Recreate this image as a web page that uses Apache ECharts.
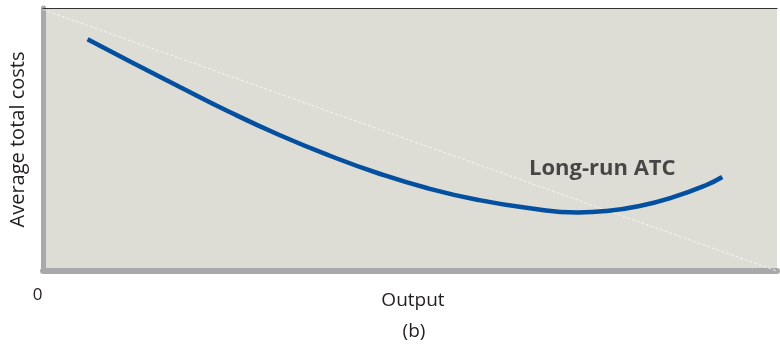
<!DOCTYPE html>
<html>
<head>
<meta charset="utf-8">
<script src="https://cdn.jsdelivr.net/npm/echarts@6/dist/echarts.min.js"></script>
<style>html,body{margin:0;padding:0;background:#fff}#c{width:780px;height:350px}</style>
</head>
<body>
<div id="c"></div>
<script>
// Long-run ATC curve (output on x, 0-100; average total cost on y, 0-100)
var outputX = [6.07, 11.86, 18.64, 25.42, 32.20, 38.98, 45.76, 52.54, 59.32, 66.10, 72.88, 76.68, 81.29, 85.76, 90.24, 92.54];
var atcY    = [88.10, 79.66, 69.96, 60.46, 51.71, 43.92, 37.07, 31.37, 27.00, 23.95, 22.24, 22.78, 24.71, 27.98, 32.51, 35.74];
var diagX = [0, 100];
var diagY = [99.4, 0];
var curveLabel = "Long-run ATC";
var labelPos = [76.2, 39.0];
var xTickLabels = ["0"];

var chart = echarts.init(document.getElementById('c'));
var font = '"Open Sans", Lato, sans-serif';
var ink = '#231f20';
chart.setOption({
  animation: false,
  grid: {left: 42.5, right: 0, top: 8, bottom: 79, show: true, backgroundColor: '#dddcd5', borderWidth: 0},
  xAxis: [{
    type: 'value', min: 0, max: 100, interval: 100,
    axisLine: {show: true, lineStyle: {color: '#a9a9ac', width: 6}},
    axisTick: {show: false}, splitLine: {show: false},
    axisLabel: {formatter: function(v){ return v === 0 ? xTickLabels[0] : ''; }, fontFamily: font, fontSize: 17, color: ink, margin: 16, padding: [0, 11, 0, 0]},
    name: 'Output', nameLocation: 'middle', nameGap: 20, nameMoveOverlap: false,
    nameTextStyle: {fontFamily: font, fontSize: 19, color: ink, padding: [0, 0, 0, 6]}
  }, {
    type: 'value', min: 0, max: 100, position: 'top',
    axisLine: {show: true, lineStyle: {color: '#333', width: 1}},
    axisTick: {show: false}, axisLabel: {show: false}, splitLine: {show: false}
  }],
  yAxis: {
    type: 'value', min: 0, max: 100,
    axisLine: {show: true, lineStyle: {color: '#a9a9ac', width: 5}},
    axisTick: {show: false}, axisLabel: {show: false}, splitLine: {show: false},
    name: 'Average total costs', nameLocation: 'middle', nameGap: 15, nameMoveOverlap: false,
    nameTextStyle: {fontFamily: font, fontSize: 20, color: ink}
  },
  graphic: [{type: 'text', x: 414, y: 332, style: {text: '(b)', fontFamily: font, fontSize: 19, fill: ink, textAlign: 'center', textVerticalAlign: 'middle'}}],
  series: [{
    type: 'line', data: diagX.map(function(x, i){ return [x, diagY[i]]; }),
    showSymbol: false, silent: true,
    lineStyle: {color: 'rgba(255,255,255,0.7)', width: 1, type: [3, 2]}
  }, {
    type: 'line', smooth: 0.5, showSymbol: false,
    data: outputX.map(function(x, i){ return [x, atcY[i]]; }),
    lineStyle: {color: '#0450a0', width: 4.5, cap: 'butt'}
  }, {
    type: 'scatter', symbolSize: 0, silent: true,
    data: [labelPos],
    label: {show: true, position: 'inside', formatter: curveLabel, fontFamily: font, fontWeight: 'bold', fontSize: 22, color: ink}
  }]
});
</script>
</body>
</html>
